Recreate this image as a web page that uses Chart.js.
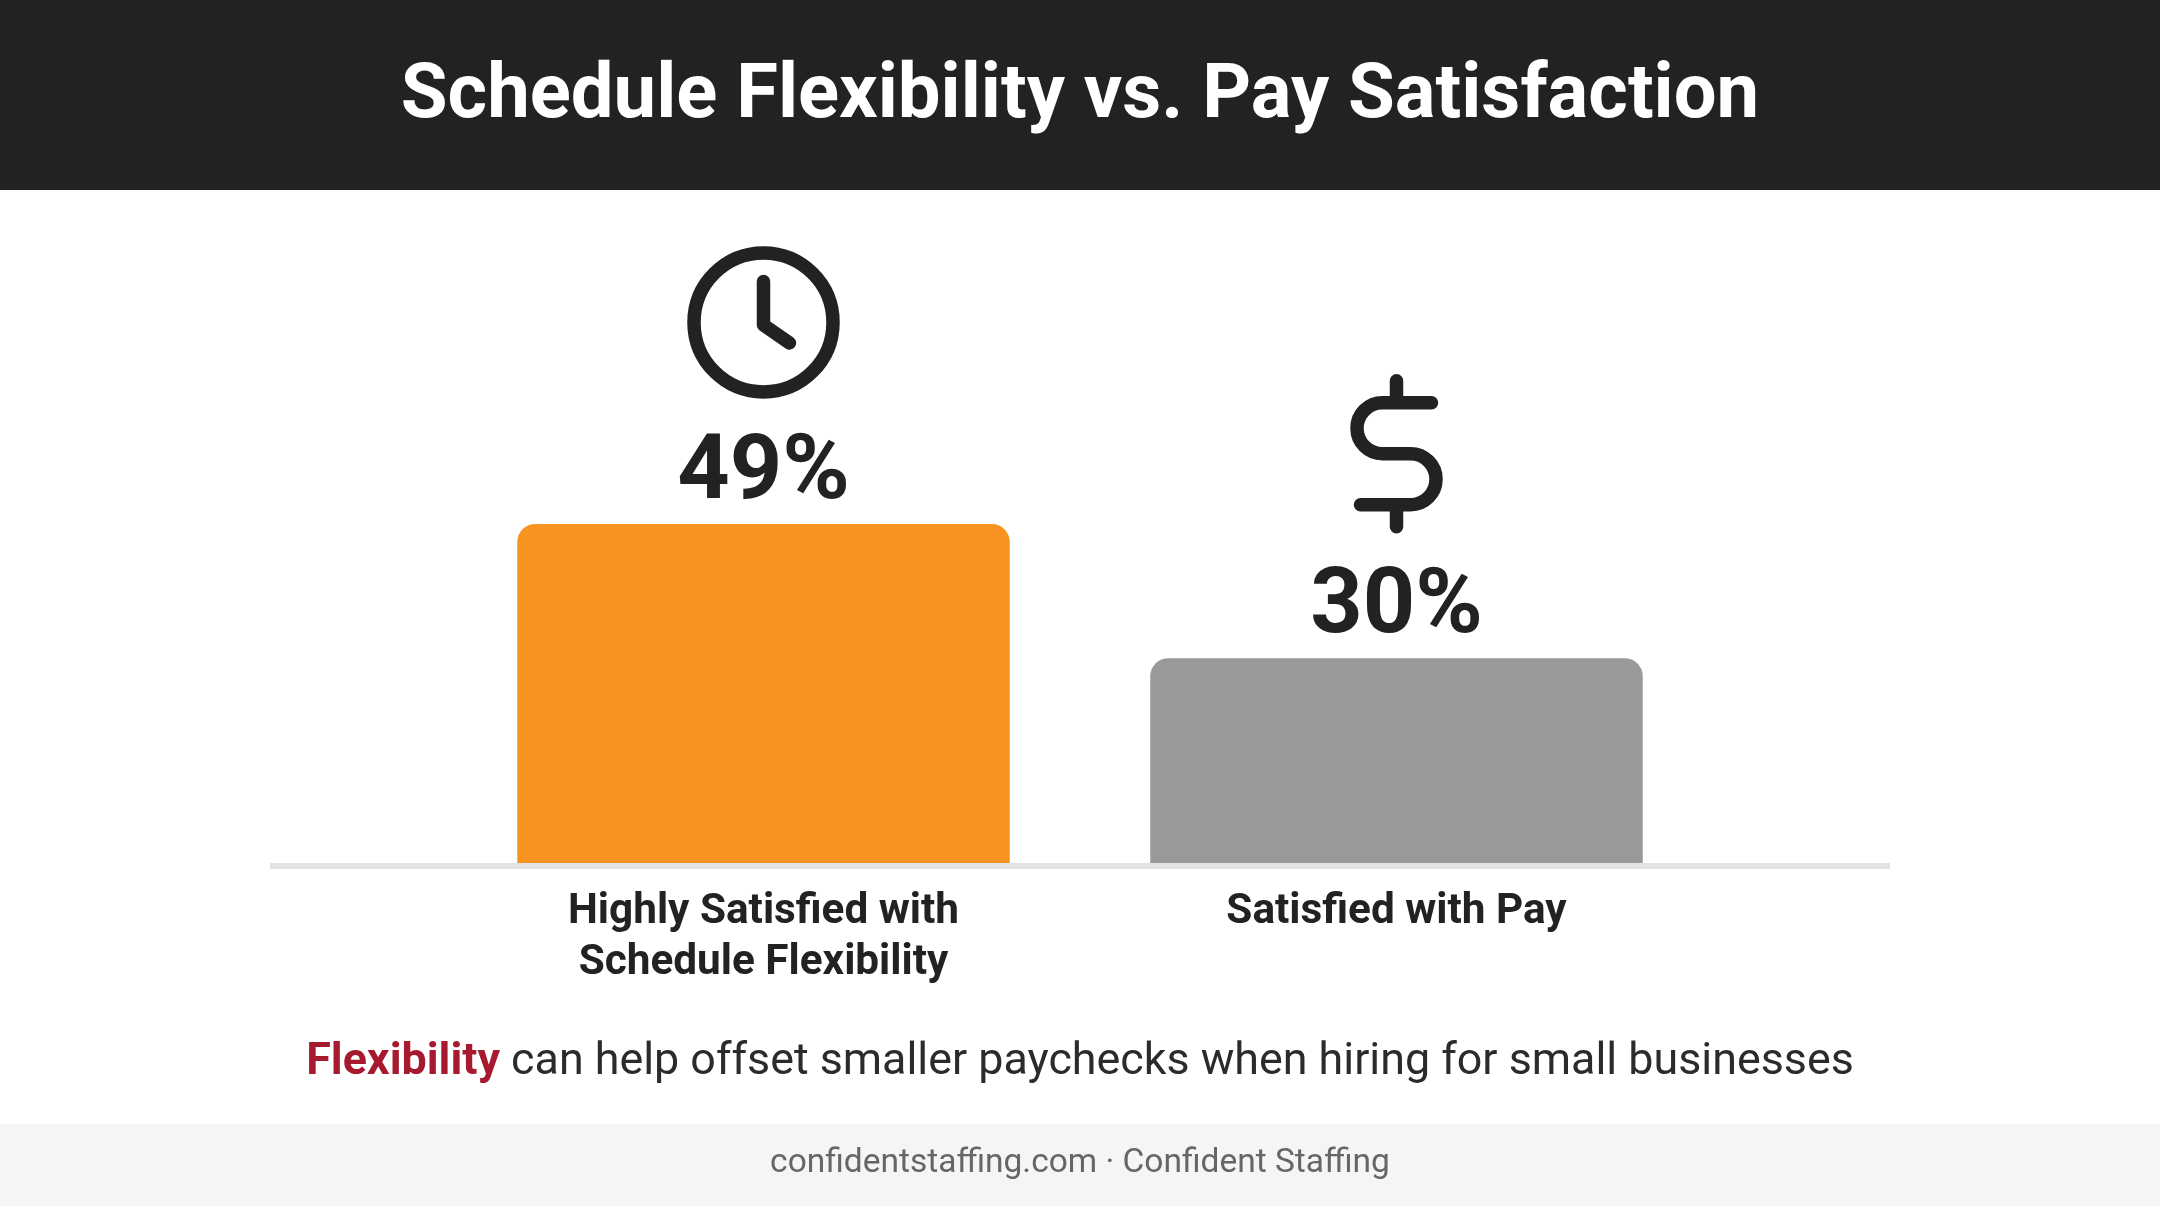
<!DOCTYPE html>
<html><head><meta charset="utf-8">
<style>
html,body{margin:0;padding:0;width:2160px;height:1206px;background:#fff;overflow:hidden;font-family:Roboto,sans-serif}
#wrap{position:absolute;left:0;top:0;width:2160px;height:1206px}
canvas{position:absolute;left:0;top:0}
.t{position:absolute;left:0;width:2160px;text-align:center;white-space:nowrap}
#head{position:absolute;left:0;top:0;width:2160px;height:190px;background:#222222}
#foot{position:absolute;left:0;top:1124px;width:2160px;height:82px;background:#f5f5f5}
#title{top:41px;line-height:100px;font-size:76px;font-weight:700;color:#fff}
#cap{top:1029px;line-height:60px;font-size:44.8px;color:#2b2b2b}
#cap b{color:#a6192e;font-weight:700}
#src{top:1141px;line-height:40px;font-size:33.5px;color:#666}
</style></head>
<body>
<div id="head"></div><div id="foot"></div>
<div id="wrap"><canvas id="c" width="2160" height="1206"></canvas></div>
<div class="t" id="title"></div>
<div class="t" id="cap"></div>
<div class="t" id="src"></div>
<script src="https://cdn.jsdelivr.net/npm/chart.js@4"></script>
<script>
const chartTitle = "Schedule Flexibility vs. Pay Satisfaction";
const categories = [["Highly Satisfied with","Schedule Flexibility"],["Satisfied with Pay"]];
const values = [49, 30];
const valueLabels = ["49%", "30%"];
const barColors = ["#f79421", "#999999"];
const captionBold = "Flexibility";
const captionRest = " can help offset smaller paychecks when hiring for small businesses";
const footerText = "confidentstaffing.com · Confident Staffing";

document.getElementById('title').textContent = chartTitle;
const capEl = document.getElementById('cap');
const b = document.createElement('b'); b.textContent = captionBold;
capEl.appendChild(b); capEl.appendChild(document.createTextNode(captionRest));
document.getElementById('src').textContent = footerText;

const INK = "#222222";
function clock(ctx, x, top){
  ctx.save(); ctx.translate(x, top);
  ctx.strokeStyle = INK; ctx.lineWidth = 13.5; ctx.lineCap = "round"; ctx.lineJoin = "round";
  ctx.beginPath(); ctx.arc(0, -201.5, 69.5, 0, Math.PI*2); ctx.stroke();
  ctx.beginPath(); ctx.moveTo(0, -242.5); ctx.lineTo(0, -199); ctx.lineTo(26, -181); ctx.stroke();
  ctx.restore();
}
function dollar(ctx, x, top){
  ctx.save(); ctx.translate(x, top);
  ctx.strokeStyle = INK; ctx.lineWidth = 13.5; ctx.lineCap = "round"; ctx.lineJoin = "round";
  ctx.beginPath();
  ctx.moveTo(35, -255.5); ctx.lineTo(-14, -255.5);
  ctx.arc(-14, -230, 25.5, -Math.PI/2, Math.PI/2, true);
  ctx.lineTo(14, -204.5);
  ctx.arc(14, -179, 25.5, -Math.PI/2, Math.PI/2, false);
  ctx.lineTo(-36, -153.5);
  ctx.moveTo(0, -277.5); ctx.lineTo(0, -255.5);
  ctx.moveTo(0, -153.5); ctx.lineTo(0, -131.5);
  ctx.stroke(); ctx.restore();
}
const decor = {
  id: 'decor',
  afterDatasetsDraw(chart){
    const ctx = chart.ctx, a = chart.chartArea, els = chart.getDatasetMeta(0).data;
    // baseline rule, wider than the plot area
    ctx.save(); ctx.fillStyle = "#e3e3e3";
    ctx.fillRect(a.left - 177, a.bottom, (a.right - a.left) + 354, 6);
    ctx.fillStyle = INK; ctx.font = "700 91.5px Roboto"; ctx.textAlign = "center"; ctx.textBaseline = "alphabetic";
    els.forEach((el,i)=> ctx.fillText(valueLabels[i], el.x, el.y - 26));
    ctx.restore();
    clock(ctx, els[0].x, els[0].y);
    dollar(ctx, els[1].x, els[1].y);
  }
};
new Chart(document.getElementById('c'), {
  type: 'bar',
  data: { labels: categories, datasets: [{
    data: values, backgroundColor: barColors, borderWidth: 0,
    borderRadius: {topLeft:18, topRight:18, bottomLeft:0, bottomRight:0}, borderSkipped: false,
    categoryPercentage: 1, barPercentage: 0.778
  }]},
  options: {
    responsive: false, animation: false,
    layout: { padding: { left: 447, right: 447, top: 446.25, bottom: 0 } },
    plugins: { legend: {display:false}, tooltip: {enabled:false}, title:{display:false} },
    scales: {
      y: { display:false, min:1, max:60 },
      x: {
        afterFit(s){ s.height = 343; },
        grid:{display:false}, border:{display:false},
        ticks:{ color:INK, padding:16, maxRotation:0, autoSkip:false, font:{family:'Roboto', size:42.3, weight:'700', lineHeight:'51px'} }
      }
    }
  },
  plugins:[decor]
});
</script>
</body></html>
